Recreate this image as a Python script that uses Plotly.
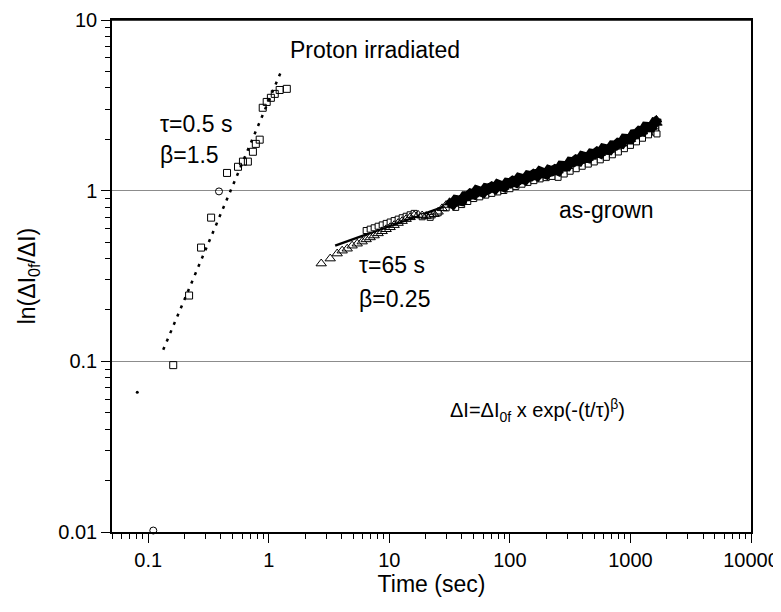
import plotly.graph_objects as go

# ---------------- data ----------------
# Proton irradiated sample (open squares)
proton_t = [0.161, 0.218, 0.274, 0.332, 0.45, 0.555, 0.61, 0.67, 0.738, 0.78, 0.84,
            0.89, 0.96, 1.04, 1.12, 1.23, 1.41]
proton_y = [0.095, 0.243, 0.464, 0.695, 1.27, 1.38, 1.48, 1.48, 1.69, 1.88, 1.99,
            3.06, 3.31, 3.5, 3.69, 3.89, 3.95]
# proton points drawn as open circles
proton_circ_t = [0.386, 0.11]
proton_circ_y = [0.99, 0.0102]
# stray dot
dot_t = [0.081]
dot_y = [0.066]
# fit for proton irradiated (tau=0.5 s, beta=1.5), dotted line endpoints
proton_fit_t = [0.133, 1.28]
proton_fit_y = [0.117, 5.1]

# As-grown sample, triangles
asgrown_tri_t = [2.72, 3.23, 3.69, 4.06, 4.47, 4.91, 5.41, 5.95,
                 6.42, 6.93, 7.48, 8.07, 8.72, 9.41, 10.15, 10.96, 11.83, 12.77, 13.78,
                 14.87, 16.06, 17.33, 18.71, 20.2, 21.8, 23.5, 25.4, 27.4, 29.6,
                 31.6, 33.5, 35.5, 37.6, 39.8, 42.2, 44.7, 47.3, 50.1, 53.1, 56.2, 59.6,
                 63.1, 66.8, 70.8, 75.0, 79.4, 84.1, 89.1, 94.4, 100, 106, 112, 119,
                 126, 133, 141, 150, 158, 168, 178, 188, 200, 211, 224, 237, 251, 266,
                 282, 299, 316, 335, 355, 376, 398, 422, 447, 473, 501, 531, 562, 596,
                 631, 668, 708, 750, 794, 841, 891, 944, 1000, 1059, 1122, 1189, 1259,
                 1334, 1413, 1496, 1585, 1600, 1640, 1660]
asgrown_tri_y = [0.374, 0.400, 0.428, 0.445, 0.457, 0.476, 0.489, 0.503,
                 0.518, 0.532, 0.546, 0.562, 0.578, 0.594, 0.610, 0.628, 0.646, 0.663, 0.681,
                 0.698, 0.716, 0.721, 0.715, 0.710, 0.714, 0.728, 0.752, 0.788, 0.824,
                 0.855, 0.836, 0.882, 0.866, 0.870, 0.927, 0.927, 0.962, 0.950, 1.004, 0.981, 0.977,
                 1.033, 1.024, 1.052, 1.029, 1.085, 1.059, 1.052, 1.110, 1.103, 1.138, 1.119, 1.186,
                 1.163, 1.160, 1.226, 1.215, 1.249, 1.224, 1.294, 1.261, 1.251, 1.318, 1.301, 1.333,
                 1.310, 1.399, 1.382, 1.390, 1.476, 1.470, 1.519, 1.496, 1.589, 1.558, 1.555, 1.648,
                 1.637, 1.688, 1.658, 1.762, 1.731, 1.733, 1.842, 1.835, 1.903, 1.885, 2.014, 1.989,
                 2.002, 2.139, 2.148, 2.237, 2.220, 2.373, 2.345, 2.357, 2.511, 2.56, 2.60, 2.495]

# As-grown sample, squares
asgrown_sq_t = [6.42, 6.93, 7.48, 8.07, 8.72, 9.41, 10.15, 10.96, 11.83, 12.77, 13.78,
                14.87, 16.06, 18.71, 21.8, 25.4, 29.6,
                35.5, 39.8, 44.7, 50.1, 56.2, 63.1, 70.8, 79.4, 89.1, 100, 112, 126, 141,
                158, 178, 200, 224, 251, 282, 316, 355, 398, 447, 501, 562, 631, 708, 794,
                891, 1000, 1122, 1259, 1413, 1585, 1620, 1620, 1620, 1660]
asgrown_sq_y = [0.584, 0.595, 0.606, 0.619, 0.630, 0.643, 0.655, 0.668, 0.681, 0.694, 0.708,
                0.722, 0.736, 0.703, 0.698, 0.742, 0.793,
                0.798, 0.829, 0.864, 0.899, 0.920, 0.942, 0.964, 0.983, 1.002, 1.027, 1.059,
                1.091, 1.118, 1.145, 1.172, 1.192, 1.212, 1.197, 1.252, 1.300, 1.345, 1.390,
                1.431, 1.473, 1.516, 1.568, 1.623, 1.685, 1.762, 1.842, 1.932, 2.029, 2.124,
                2.213, 2.20, 2.30, 2.40, 2.15]

# fit for as-grown (tau=65 s, beta=0.25), solid line endpoints
asgrown_fit_t = [3.55, 1662]
asgrown_fit_y = [0.476, 2.257]

x_tickvals = [0.1, 1, 10, 100, 1000, 10000]
x_ticktext = ["0.1", "1", "10", "100", "1000", "10000"]
y_tickvals = [0.01, 0.1, 1, 10]
y_ticktext = ["0.01", "0.1", "1", "10"]

FONT = "Liberation Sans, Arial, Helvetica, sans-serif"

fig = go.Figure()

fig.add_trace(go.Scatter(x=proton_fit_t, y=proton_fit_y, mode="lines",
                         line=dict(color="black", width=2.5, dash="3px,6px"),
                         showlegend=False, hoverinfo="skip"))
fig.add_trace(go.Scatter(x=asgrown_fit_t, y=asgrown_fit_y, mode="lines",
                         line=dict(color="black", width=2.5),
                         showlegend=False, hoverinfo="skip"))

# squares underneath (mostly hidden by the dense triangles)
fig.add_trace(go.Scatter(x=asgrown_sq_t, y=asgrown_sq_y, mode="markers",
                         marker=dict(symbol="square", size=6, color="white",
                                     line=dict(color="black", width=1)),
                         showlegend=False))

# dense part of the as-grown triangles overlaps into a solid black band
dense = sorted((t, y) for t, y in zip(asgrown_tri_t, asgrown_tri_y) if t >= 30)
fig.add_trace(go.Scatter(x=[d[0] for d in dense], y=[d[1] for d in dense], mode="lines",
                         line=dict(color="black", width=10),
                         showlegend=False, hoverinfo="skip"))

tri_symbols = ["triangle-up-open" if t < 30 else "triangle-up" for t in asgrown_tri_t]
fig.add_trace(go.Scatter(x=asgrown_tri_t, y=asgrown_tri_y, mode="markers",
                         marker=dict(symbol=tri_symbols, size=9, color="black",
                                     line=dict(color="black", width=1)),
                         showlegend=False))

fig.add_trace(go.Scatter(x=proton_t, y=proton_y, mode="markers",
                         marker=dict(symbol="square-open", size=7, color="black",
                                     line=dict(width=1)),
                         showlegend=False))
fig.add_trace(go.Scatter(x=proton_circ_t, y=proton_circ_y, mode="markers",
                         marker=dict(symbol="circle-open", size=7, color="black",
                                     line=dict(width=1)),
                         cliponaxis=False, showlegend=False))
fig.add_trace(go.Scatter(x=dot_t, y=dot_y, mode="markers",
                         marker=dict(symbol="circle", size=3, color="black"),
                         showlegend=False))

axis_common = dict(
    type="log", showline=True, linecolor="black", linewidth=1.5, mirror=True,
    ticks="outside", ticklen=9, tickwidth=1.3, tickcolor="black",
    tickfont=dict(family=FONT, size=20, color="black"),
    minor=dict(ticks="outside", ticklen=5, tickwidth=1, tickcolor="black",
               dtick="D1", showgrid=False),
    zeroline=False, automargin=False, ticklabeloverflow="allow",
)

fig.update_xaxes(**axis_common, range=[-1.301, 4], tickmode="array",
                 tickvals=x_tickvals, ticktext=x_ticktext, showgrid=False,
                 title=dict(text="Time (sec)", font=dict(family=FONT, size=23, color="black"),
                            standoff=4))
fig.update_yaxes(**axis_common, range=[-2, 1], tickmode="array",
                 tickvals=y_tickvals, ticktext=y_ticktext,
                 showgrid=True, gridcolor="#8c8c8c", gridwidth=1,
                 title=dict(text="ln(ΔI<sub>0f</sub>/ΔI)",
                            font=dict(family=FONT, size=23, color="black"), standoff=16))

ann_font = dict(family=FONT, size=23, color="black")
annotations = [
    dict(text="Proton irradiated", x=0.4116, y=0.9417, xanchor="center"),
    dict(text="τ=0.5 s", x=0.072, y=0.7961, xanchor="left"),
    dict(text="β=1.5", x=0.072, y=0.7359, xanchor="left"),
    dict(text="as-grown", x=0.6964, y=0.629, xanchor="left"),
    dict(text="τ=65 s", x=0.3834, y=0.5223, xanchor="left"),
    dict(text="β=0.25", x=0.3834, y=0.4544, xanchor="left"),
    dict(text="ΔI=ΔI<sub>0f</sub> x exp(-(t/τ)<sup>β</sup>)", x=0.526, y=0.237,
         xanchor="left", font=dict(family=FONT, size=20, color="black")),
]
for a in annotations:
    a.setdefault("font", ann_font)
    a.update(xref="paper", yref="paper", yanchor="middle", showarrow=False)

# the page body adds an 8px offset, so margins are set to land the plot
# area where it sits in the reference image
fig.update_layout(
    width=781, height=612,
    margin=dict(l=104, r=38, t=12, b=88),
    paper_bgcolor="white", plot_bgcolor="white",
    font=dict(family=FONT, color="black"),
    annotations=annotations,
    showlegend=False,
    shapes=[dict(type="line", xref="paper", yref="paper", x0=0, x1=1, y0=1, y1=1,
                 line=dict(color="black", width=1.5), layer="above")],
)

fig.write_html("out.html")
